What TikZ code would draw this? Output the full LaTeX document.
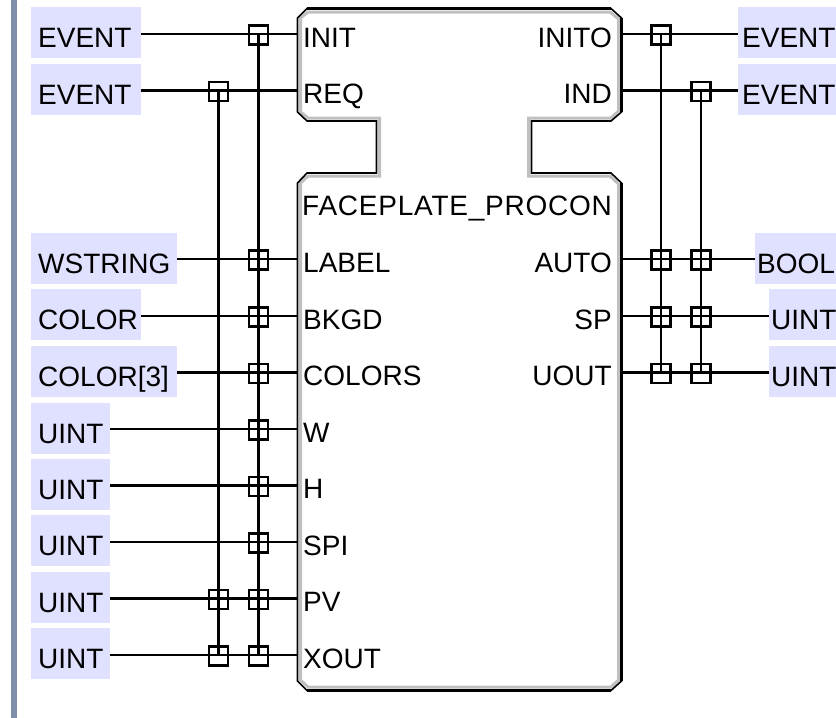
\documentclass[tikz,border=0pt]{standalone}
\usepackage{fontspec}
\setmainfont{Liberation Sans}
\tikzset{
  x=1pt,y=-1pt,
  lbl/.style={font=\fontsize{28}{30}\selectfont,inner sep=0pt,text=black},
  typebox/.style={fill=typefill,draw=none,inner ysep=0pt,inner xsep=7pt,anchor=north west,text height=40pt,text depth=11pt,align=left,font=\fontsize{28}{30}\selectfont,text=black},
  wire/.style={draw=black,line width=2.6pt},
  jn/.style={draw=black,line width=2.6pt,minimum size=19pt,inner sep=0pt,fill=none,yshift=-1pt},
  pinl/.style={lbl,anchor=base west},
  pinr/.style={lbl,anchor=base east},
}
\definecolor{typefill}{RGB}{224,224,255}
\definecolor{sidebar}{RGB}{128,144,168}
\definecolor{inner}{RGB}{192,192,192}
\begin{document}
\begin{tikzpicture}
\useasboundingbox (0,0) rectangle (836,718);
\fill[white] (0,0) rectangle (836,718);
\fill[sidebar] (11,0) rectangle (17,718);
% input type boxes
\foreach \n/\t/\w/\yt in {a/EVENT/96/7,b/EVENT/96/64,c/WSTRING/132/233,d/COLOR/96/289,e/COLOR[3]/132/346,f/UINT/65/403,g/UINT/65/459,h/UINT/65/515,i/UINT/65/572,j/UINT/65/628}
  \node[typebox,text width=\w pt] (t\n) at (31,\yt) {\t};
% output type boxes
\node[typebox,inner xsep=4pt,text width=90pt] (ua) at (738,7) {EVENT};
\node[typebox,inner xsep=4pt,text width=90pt] (ub) at (738,64) {EVENT};
\node[typebox,inner xsep=2pt,text width=77pt] (uc) at (755,233) {BOOL};
\node[typebox,inner xsep=2pt,text width=63pt] (ud) at (769,289) {UINT};
\node[typebox,inner xsep=2pt,text width=63pt] (ue) at (769,346) {UINT};
% block body
\draw[inner,line width=3pt,line join=miter]
  (308,12)--(610,12)--(618.5,19)--(618.5,111)--(611,118)--(528.5,118)--(528.5,176)--(610,176)--(618.5,184)--(618.5,680)--(611,687)--(308,687)--(300.5,680)--(300.5,183)--(308,176)--(379.5,176)--(379.5,118)--(308,118)--(300.5,112)--(300.5,18)--cycle;
\draw[black,line width=1.6pt,line join=miter]
  (307,8.5)--(611,8.5)--(621.5,18)--(621.5,112)--(611,121)--(531.5,121)--(531.5,173)--(611,173)--(621.5,183)--(621.5,681)--(611,690.5)--(307,690.5)--(297.5,681)--(297.5,183)--(307,173)--(376.5,173)--(376.5,121)--(307,121)--(297.5,112)--(297.5,18)--cycle;
\draw[black,line width=2.8pt]
  (307,8.5)--(611,8.5) (621.5,18)--(621.5,112) (611,121)--(531.5,121) (531.5,173)--(611,173)
  (621.5,183)--(621.5,681) (611,690.5)--(307,690.5) (307,173)--(376.5,173) (376.5,121)--(307,121);
% pins
\foreach \n/\y in {a/34,b/90.5,c/259,d/316,e/372.5,f/429,g/485.5,h/542,i/598.5,j/655}
  \coordinate (pl\n) at (297,\y);
\foreach \n/\y in {a/34,b/90.5,c/259,d/316,e/372.5}
  \coordinate (pr\n) at (621,\y);
% pin labels
\foreach \n/\t in {a/INIT,b/REQ,c/LABEL,d/BKGD,e/COLORS,f/W,g/H,h/SPI,i/PV,j/XOUT}
  \node[pinl] (ll\n) at ([xshift=6pt,yshift=-13pt]pl\n) {\t};
\foreach \n/\t in {a/INITO,b/IND,c/AUTO,d/SP,e/UOUT}
  \node[pinr] (lr\n) at ([xshift=-9pt,yshift=-13pt]pr\n) {\t};
\node[lbl,anchor=base east,font=\fontsize{28}{30}\selectfont\addfontfeature{LetterSpace=2.7}] (title) at (612,215) {FACEPLATE\_PROCON};
% junction squares
\foreach \n in {a,c,d,e,f,g,h,i,j}
  \node[jn] (qb\n) at (258.5,0 |- pl\n) {};
\foreach \n in {b,i,j}
  \node[jn] (qa\n) at (218.5,0 |- pl\n) {};
\foreach \n in {a,c,d,e}
  \node[jn] (ra\n) at (661,0 |- pr\n) {};
\foreach \n in {b,c,d,e}
  \node[jn] (rb\n) at (701,0 |- pr\n) {};
% wires
\foreach \n in {a,b,c,d,e,f,g,h,i,j}
  \draw[wire] (t\n.east |- pl\n) -- (pl\n);
\draw[wire] (pra) -- (ua.west |- pra);
\draw[wire] (prb) -- (ub.west |- prb);
\draw[wire] (prc) -- (uc.west |- prc);
\draw[wire] (prd) -- (ud.west |- prd);
\draw[wire] (pre) -- (ue.west |- pre);
\draw[wire] (qab.center) -- (qaj.center);
\draw[wire] (qba.center) -- (qbj.center);
\draw[wire] (raa.center) -- (rae.center);
\draw[wire] (rbb.center) -- (rbe.center);
\end{tikzpicture}
\end{document}
